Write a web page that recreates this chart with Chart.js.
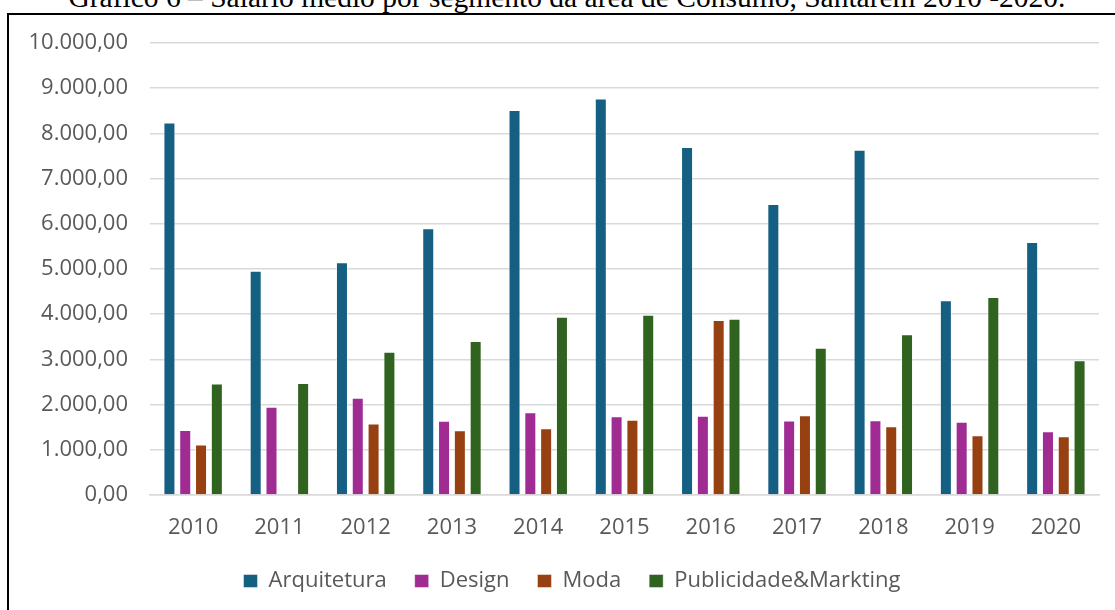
<!DOCTYPE html>
<html lang="pt-BR">
<head>
<meta charset="utf-8">
<script src="https://cdn.jsdelivr.net/npm/chart.js@4.4.1/dist/chart.umd.min.js"></script>
<style>
    html, body { margin: 0; padding: 0; background: #fff; width: 1115px; height: 610px; overflow: hidden; position: relative; }
    .titulo {
        position: absolute; left: 0; top: -17px; width: 1134px; text-align: center;
        font-family: "Liberation Serif", "Times New Roman", serif; font-size: 29.5px; line-height: 29.5px; color: #000;
        white-space: nowrap;
    }
    .moldura {
        position: absolute; left: 7px; top: 13px; width: 1200px; height: 700px;
        border-top: 2px solid #000; border-left: 2px solid #000;
    }
    .grafico { position: absolute; left: 9px; top: 15px; width: 1126px; height: 587px; }
</style>
</head>
<body>
<div class="titulo">Gráfico 6 – Salário médio por segmento da área de Consumo, Santarém 2010 -2020.</div>
<div class="moldura"></div>
<div class="grafico"><canvas id="chartSalario"></canvas></div>
<script>
// dados (salário médio, R$)
const anos = ['2010', '2011', '2012', '2013', '2014', '2015', '2016', '2017', '2018', '2019', '2020'];
const arquitetura = [8240, 4960, 5150, 5900, 8520, 8770, 7700, 6440, 7640, 4310, 5600];
const design = [1440, 1950, 2150, 1640, 1830, 1740, 1755, 1650, 1655, 1620, 1410];
const moda = [1120, null, 1580, 1430, 1475, 1665, 3870, 1765, 1520, 1320, 1300];
const publicidade = [2465, 2480, 3170, 3405, 3945, 3990, 3900, 3260, 3555, 4380, 2980];
const ticksY = [0, 1000, 2000, 3000, 4000, 5000, 6000, 7000, 8000, 9000, 10000];

// formata 1234.5 -> "1.234,50"
function formatarBR(valor) {
    const partes = Number(valor).toFixed(2).split('.');
    return partes[0].replace(/\B(?=(\d{3})+(?!\d))/g, '.') + ',' + partes[1];
}

const corTexto = '#595959';
const corGrade = '#d9d9d9';
const fonte = { family: '"Open Sans", sans-serif', size: 22 };

const serie = (label, data, cor) => ({
    label: label,
    data: data,
    backgroundColor: cor,
    borderColor: 'rgba(255,255,255,0.45)',
    borderWidth: 1,
    categoryPercentage: 0.733,
    barPercentage: 0.76
});

// desloca a legenda para a direita (no original ela fica centrada na caixa toda)
const ajusteLegenda = {
    id: 'ajusteLegenda',
    afterLayout(chart) {
        const lg = chart.legend;
        if (!lg) return;
        lg.left += 18;
        lg.right += 18;
    }
};

new Chart(document.getElementById('chartSalario'), {
    type: 'bar',
    data: {
        labels: anos,
        datasets: [
            serie('Arquitetura', arquitetura, '#156082'),
            serie('Design', design, '#a02b93'),
            serie('Moda', moda, '#974011'),
            serie('Publicidade&Markting', publicidade, '#30631f')
        ]
    },
    options: {
        responsive: true,
        maintainAspectRatio: false,
        animation: false,
        layout: { padding: { top: 28, left: 0, right: 36, bottom: 0 } },
        plugins: {
            tooltip: { enabled: false },
            legend: {
                position: 'bottom',
                labels: {
                    color: corTexto,
                    font: fonte,
                    boxWidth: 14,
                    boxHeight: 13,
                    padding: 28
                }
            }
        },
        scales: {
            x: {
                grid: { display: false },
                border: { display: true, color: corGrade, width: 1.5 },
                ticks: { color: corTexto, font: fonte, padding: 12 },
                afterFit: (scale) => { scale.height = 47; }
            },
            y: {
                min: 0,
                max: 10000,
                afterBuildTicks: (scale) => { scale.ticks = ticksY.map(v => ({ value: v })); },
                grid: { color: corGrade, lineWidth: 1.5, drawTicks: false },
                border: { display: false },
                ticks: { color: corTexto, font: fonte, padding: 22, callback: (v) => formatarBR(v) },
                afterFit: (scale) => {
                    scale.width = 141;
                    scale.paddingTop = 0;
                    scale.paddingBottom = 0;
                }
            }
        }
    },
    plugins: [ajusteLegenda]
});
</script>
</body>
</html>
